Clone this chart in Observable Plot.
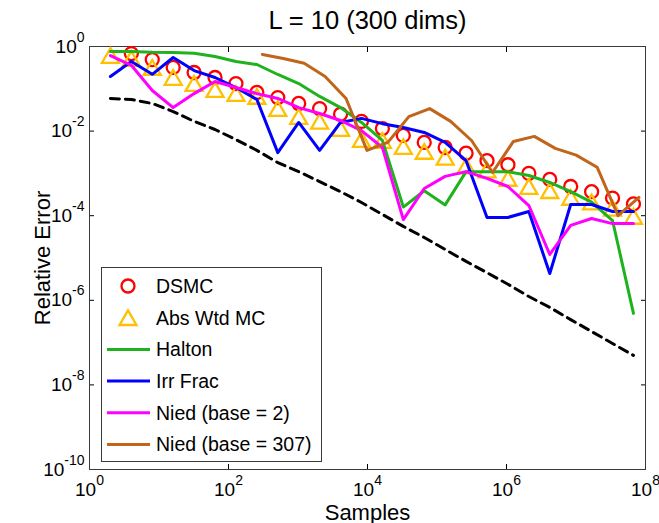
<!DOCTYPE html>
<html><head><meta charset="utf-8">
<script src="https://cdn.jsdelivr.net/npm/d3@7"></script>
<script src="https://cdn.jsdelivr.net/npm/@observablehq/plot@0.6"></script>
<style>
body{margin:0;background:#fff;}
#wrap{position:relative;width:659px;height:523px;font-family:"Liberation Sans",Arial,Helvetica,sans-serif;}
#legend{position:absolute;left:101px;top:267px;}
</style></head><body><div id="wrap"></div>
<script>
const title = "L = 10 (300 dims)";
const xLabel = "Samples";
const yLabel = "Relative Error";
const xTicks = [1, 1e2, 1e4, 1e6, 1e8];
const yTicks = [1, 1e-2, 1e-4, 1e-6, 1e-8, 1e-10];

const samples = [2, 4, 8, 16, 32, 64, 128, 256, 512, 1024, 2048, 4096, 8192, 16384, 32768, 65536,
  131072, 262144, 524288, 1048576, 2097152, 4194304, 8388608, 16777216, 33554432, 67108864];
const samples307 = [307, 614, 1228, 2456, 4912, 9824, 19648, 39296, 78592, 157184, 314368, 628736,
  1257472, 2514944, 5029888, 10059776, 20119552, 40239104, 80478208];
const dsmcSamples = [4, 8, 16, 32, 64, 128, 256, 512, 1024, 2048, 4096, 8192, 16384, 32768, 65536,
  131072, 262144, 524288, 1048576, 2097152, 4194304, 8388608, 16777216, 33554432, 67108864];

const dsmc = [0.68, 0.49, 0.32, 0.243, 0.185, 0.133, 0.082, 0.062, 0.045, 0.034, 0.025, 0.017, 0.0115,
  0.0079, 0.0054, 0.0041, 0.0030, 0.0020, 0.0016, 0.0010, 0.00072, 0.00049, 0.00037, 0.00026, 0.00019];
const absWtd = [0.61, 0.52, 0.32, 0.185, 0.133, 0.096, 0.077, 0.066, 0.034, 0.022, 0.017, 0.0115, 0.0063,
  0.0060, 0.0043, 0.0033, 0.0024, 0.0015, 0.0012, 0.00076, 0.00049, 0.00039, 0.00027, 0.00021, 0.00015, 0.000096];
const halton = [0.76, 0.76, 0.73, 0.72, 0.69, 0.58, 0.44, 0.375, 0.218, 0.133, 0.066, 0.036, 0.016, 0.0060,
  0.00016, 0.00039, 0.00018, 0.0011, 0.0011, 0.0011, 0.00089, 0.00061, 0.00037, 0.00021, 0.000077, 4.9e-7];
const irrFrac = [0.195, 0.44, 0.22, 0.55, 0.27, 0.185, 0.107, 0.056, 0.0031, 0.016, 0.0035, 0.016, 0.020,
  0.015, 0.0122, 0.0093, 0.0054, 0.0020, 0.000091, 0.000091, 0.000126, 0.0000043, 0.000184, 0.000184, 0.000126, 0.000126];
const nied2 = [0.61, 0.36, 0.091, 0.036, 0.077, 0.149, 0.107, 0.077, 0.059, 0.036, 0.026, 0.0178, 0.0103,
  0.0041, 0.000081, 0.00044, 0.00085, 0.0011, 0.00076, 0.00049, 0.000174, 0.0000121, 0.000059, 0.000086, 0.000065, 0.000065];
const nied307 = [0.65, 0.52, 0.40, 0.195, 0.059, 0.0035, 0.0054, 0.022, 0.034, 0.017, 0.0060, 0.00105,
  0.0057, 0.0075, 0.0039, 0.0027, 0.0014, 0.00010, 0.00027];
const reference = [0.059, 0.056, 0.045, 0.029, 0.017, 0.0109, 0.0063, 0.0035, 0.0018, 0.0011, 0.00064,
  0.00037, 0.000205, 0.000107, 0.000056, 0.0000305, 0.0000159, 0.0000083, 0.0000045, 0.0000024, 0.00000123,
  6.8e-7, 3.5e-7, 1.83e-7, 9.5e-8, 5.0e-8];

const seriesNames = ["DSMC", "Abs Wtd MC", "Halton", "Irr Frac", "Nied (base = 2)", "Nied (base = 307)"];
const seriesColors = ["#ff0000", "#ffc000", "#1fb21f", "#0000ff", "#ff00ff", "#c0651a"];
const seriesKinds = ["circle", "triangle", "line", "line", "line", "line"];

const rows = (xs, ys) => ys.map((y, i) => ({x: xs[i], y}));
const fmt = d => `10^${Math.round(Math.log10(d))}`;
const font = "'Liberation Sans', Arial, Helvetica, sans-serif";

const chart = Plot.plot({
  width: 659, height: 523,
  marginLeft: 89, marginRight: 14, marginTop: 46, marginBottom: 54,
  style: {fontFamily: font, fontSize: "19px", color: "#000", background: "#fff", overflow: "visible"},
  x: {type: "log", domain: [1, 1e8]},
  y: {type: "log", domain: [1e-10, 1]},
  marks: [
    Plot.axisX(xTicks, {anchor: "bottom", tickSize: -5, tickPadding: 18, tickFormat: fmt, label: null, fontSize: 19}),
    Plot.axisX(xTicks, {anchor: "top", tickSize: -5, tickFormat: () => "", label: null}),
    Plot.axisY(yTicks, {anchor: "left", tickSize: -5, tickPadding: 10, tickFormat: fmt, label: null, fontSize: 19}),
    Plot.axisY(yTicks, {anchor: "right", tickSize: -5, tickFormat: () => "", label: null}),
    Plot.frame({stroke: "#3a3a3a", strokeWidth: 1}),
    Plot.dot(rows(dsmcSamples, dsmc), {x: "x", y: "y", symbol: "circle", r: 6.5, stroke: seriesColors[0], strokeWidth: 2.3, fill: "none"}),
    Plot.dot(rows(samples, absWtd), {x: "x", y: "y", symbol: "triangle", r: 6.3, dy: 2.4, stroke: seriesColors[1], strokeWidth: 2.3, fill: "none"}),
    Plot.line(rows(samples, halton), {x: "x", y: "y", stroke: seriesColors[2], strokeWidth: 3}),
    Plot.line(rows(samples, irrFrac), {x: "x", y: "y", stroke: seriesColors[3], strokeWidth: 3}),
    Plot.line(rows(samples, nied2), {x: "x", y: "y", stroke: seriesColors[4], strokeWidth: 3}),
    Plot.line(rows(samples307, nied307), {x: "x", y: "y", stroke: seriesColors[5], strokeWidth: 3}),
    Plot.line(rows(samples, reference), {x: "x", y: "y", stroke: "#000", strokeWidth: 3, strokeDasharray: "9,6"}),
    Plot.text([title], {text: d => d, frameAnchor: "top", lineAnchor: "middle", textAnchor: "middle", dy: -26, fontSize: 25.5}),
    Plot.text([xLabel], {text: d => d, frameAnchor: "bottom", lineAnchor: "middle", textAnchor: "middle", dy: 43, fontSize: 22}),
    Plot.text([yLabel], {text: d => d, frameAnchor: "left", lineAnchor: "middle", textAnchor: "middle", dx: -47, rotate: -90, fontSize: 22})
  ]
});

// Render exponent of tick labels as superscripts
d3.select(chart).selectAll("text").each(function() {
  const m = /^10\^(-?\d+)$/.exec(this.textContent);
  if (!m) return;
  const sel = d3.select(this);
  sel.text("10");
  sel.append("tspan").attr("dy", -11).attr("font-size", "14px").text(m[1]);
});

const wrap = document.getElementById("wrap");
wrap.appendChild(chart);

// Legend
const lw = 221, lh = 195, rowH = 31.7, row0 = 19;
const leg = d3.create("svg").attr("id", "legend").attr("width", lw).attr("height", lh)
  .style("font-family", font).style("font-size", "19.5px");
leg.append("rect").attr("x", 0.5).attr("y", 0.5).attr("width", lw - 1).attr("height", lh - 1)
  .attr("fill", "#fff").attr("stroke", "#3a3a3a");
seriesNames.forEach((name, i) => {
  const cy = row0 + i * rowH;
  const g = leg.append("g").attr("transform", `translate(0,${cy})`);
  if (seriesKinds[i] === "circle") {
    g.append("circle").attr("cx", 27).attr("cy", 0).attr("r", 6.5).attr("fill", "none")
      .attr("stroke", seriesColors[i]).attr("stroke-width", 2.3);
  } else if (seriesKinds[i] === "triangle") {
    g.append("path").attr("transform", "translate(27,2.4)")
      .attr("d", d3.symbol(d3.symbolTriangle, Math.PI * 6.3 * 6.3)()).attr("fill", "none")
      .attr("stroke", seriesColors[i]).attr("stroke-width", 2.3);
  } else {
    g.append("line").attr("x1", 6).attr("x2", 49).attr("y1", 0).attr("y2", 0)
      .attr("stroke", seriesColors[i]).attr("stroke-width", 3);
  }
  g.append("text").attr("x", 55).attr("y", 0).attr("dy", "0.35em").attr("fill", "#000").text(name);
});
wrap.appendChild(leg.node());
</script></body></html>
